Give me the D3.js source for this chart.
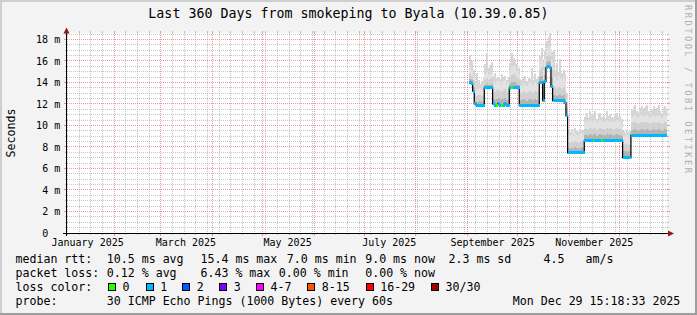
<!DOCTYPE html>
<html><head><meta charset="utf-8">
<script src="https://cdn.jsdelivr.net/npm/d3@7"></script>
<style>
html,body{margin:0;padding:0;background:#f3f3f3;}
svg{display:block;}
text{font-family:"DejaVu Sans Mono",monospace;fill:#000;}
</style></head><body>
<svg id="c" width="697" height="315"></svg>
<script>
// ---------------- data ----------------
const chartTitle = "Last 360 Days from smokeping to Byala (10.39.0.85)";
const yAxisTitle = "Seconds";
const watermark = "RRDTOOL / TOBI OETIKER";
const startTime = new Date(Date.UTC(2025, 0, 3, 15, 18, 33));
const endTime = new Date(Date.UTC(2025, 11, 29, 15, 18, 33));
const firstDataDay = new Date(Date.UTC(2025, 8, 2)); // one value per day from here

const yTickValues = [0, 2, 4, 6, 8, 10, 12, 14, 16, 18];
const yTickLabels = ["0", "2 m", "4 m", "6 m", "8 m", "10 m", "12 m", "14 m", "16 m", "18 m"];
const xTickDates = [new Date(Date.UTC(2025,0,1)), new Date(Date.UTC(2025,2,1)), new Date(Date.UTC(2025,4,1)),
                    new Date(Date.UTC(2025,6,1)), new Date(Date.UTC(2025,8,1)), new Date(Date.UTC(2025,10,1))];
const xTickLabels = ["January 2025", "March 2025", "May 2025", "July 2025", "September 2025", "November 2025"];

// median rtt (ms), one per day
const median = [
 14.0,13.9,13.2,
 12.0,11.9,11.9,11.9,11.9,11.9,
 13.5,13.5,13.5,13.5,13.5,
 12.0,11.9,11.9,12.0,11.9,11.9,11.9,12.0,11.9,11.9,
 13.5,13.5,13.5,13.5,13.5,13.5,
 11.9,11.9,11.9,11.9,11.9,11.9,11.9,11.9,11.9,11.9,11.9,11.9,
 14.0,14.0,12.3,14.1,15.4,15.5,15.4,13.6,
 12.3,12.3,12.3,12.3,12.3,12.3,12.3,12.1,
 10.9,
 7.45,7.45,7.45,7.45,7.45,7.45,7.45,7.45,7.45,7.45,
 8.6,8.6,8.6,8.6,8.6,8.6,8.6,8.6,8.6,8.6,8.6,8.6,8.6,8.6,8.6,8.6,8.6,8.6,8.6,8.6,8.6,8.6,8.6,
 7.0,7.0,7.0,7.0,7.0,
 9.1,9.1,9.1,9.1,9.1,9.1,9.1,9.1,9.1,9.1,9.1,9.1,9.1,9.1,9.1,9.1,9.1,9.1,9.1,9.1,9.1,9.1
];
// loss class index per day (0 = "0", 1 = "1", ...)
const lossClass = [
 1,1,1,1,1,1,1,1,1,1,
 1,1,1,1,1,1,0,1,1,0,
 1,1,1,1,1,0,1,1,1,1,
 1,1,1,1,1,1,1,1,1,1,
 1,1,1,1,1,1,1,1,1,1,
 1,1,1,1,1,1,1,1,1,1,
 1,1,1,1,1,1,1,1,1,1,
 1,1,1,1,0,1,1,1,1,0,
 1,1,1,1,1,1,1,1,1,1,
 1,1,1,1,1,1,1,1,1,1,
 1,1,1,1,1,1,1,1,1,1,
 1,1,1,1,1,1,1,1,1
];
// smoke: ping distribution per day (ms)
const smokeP60 = [
 14.3,14.2,13.6,
 12.3,12.2,12.2,12.3,12.2,12.3,
 13.8,13.9,13.8,13.8,13.9,
 12.5,12.4,12.5,12.6,12.4,12.5,12.5,12.6,12.4,12.5,
 13.9,14.0,14.0,14.0,13.9,13.8,
 12.4,12.4,12.5,12.4,12.3,12.4,12.5,12.4,12.4,12.5,12.4,12.4,
 14.5,14.6,13.2,14.7,15.9,16.0,15.9,14.4,
 12.8,12.8,12.7,12.8,12.8,12.7,12.8,12.6,
 11.6,
 7.9,7.8,7.9,7.8,8.0,7.9,7.8,7.9,8.0,7.9,
 9.1,9.1,9.0,9.2,9.1,9.1,9.2,9.0,9.1,9.2,9.1,9.1,9.0,9.2,9.1,9.2,9.1,9.0,9.1,9.2,9.1,9.1,9.0,
 7.6,7.5,7.6,7.5,7.6,
 9.6,9.6,9.7,9.6,9.5,9.6,9.7,9.6,9.6,9.7,9.6,9.5,9.6,9.7,9.6,9.6,9.7,9.6,9.5,9.6,9.7,9.6
];
const smokeP75 = [
 14.8,14.6,14.2,
 12.8,12.7,12.8,12.8,12.7,12.9,
 14.2,14.4,14.2,14.3,14.4,
 13.2,13.1,13.3,13.3,13.1,13.2,13.3,13.4,13.1,13.2,
 14.5,14.7,14.8,14.7,14.5,14.3,
 13.1,13.0,13.2,13.1,13.0,13.1,13.2,13.1,13.0,13.2,13.1,13.2,
 15.2,15.4,14.2,15.4,16.5,16.6,16.5,15.2,
 13.5,13.6,13.4,13.6,13.5,13.4,13.6,13.3,
 12.2,
 8.5,8.4,8.5,8.4,8.6,8.5,8.4,8.5,8.6,8.5,
 9.7,9.7,9.6,9.8,9.7,9.7,9.8,9.6,9.7,9.8,9.7,9.7,9.6,9.8,9.7,9.8,9.7,9.6,9.7,9.8,9.7,9.7,9.6,
 8.3,8.2,8.3,8.2,8.3,
 10.2,10.3,10.3,10.2,10.1,10.2,10.3,10.2,10.3,10.3,10.2,10.1,10.2,10.3,10.2,10.2,10.3,10.2,10.1,10.2,10.3,10.2
];
const smokeP90 = [
 15.4,15.2,14.6,
 13.4,13.3,13.4,13.5,13.3,13.6,
 14.8,15.0,14.7,14.8,15.0,
 14.0,13.9,14.1,14.1,13.9,14.0,14.1,14.2,13.9,14.0,
 15.1,15.4,15.5,15.4,15.1,14.8,
 13.8,13.7,13.9,13.8,13.7,13.9,14.0,13.9,13.8,14.0,13.8,14.0,
 15.9,16.2,15.2,16.2,17.2,17.4,17.2,16.0,
 14.3,14.5,14.2,14.6,14.4,14.3,14.5,14.1,
 12.6,
 9.1,9.0,9.2,9.0,9.3,9.1,9.0,9.2,9.3,9.1,
 10.3,10.4,10.2,10.5,10.3,10.4,10.5,10.2,10.4,10.5,10.3,10.4,10.2,10.5,10.3,10.4,10.3,10.2,10.4,10.5,10.3,10.4,10.1,
 9.0,8.9,9.1,8.9,9.0,
 10.8,10.9,11.0,10.8,10.7,10.9,11.0,10.8,10.9,11.0,10.8,10.7,10.9,11.0,10.8,10.9,11.0,10.8,10.7,10.9,11.0,10.8
];
const smokeMax = [
 16.6,16.0,15.2,
 14.0,14.9,14.2,13.9,14.1,14.5,
 15.7,16.7,15.3,15.6,15.9,
 14.6,14.9,14.4,14.5,14.3,14.8,14.4,14.6,14.2,14.5,
 15.8,16.7,16.3,16.0,15.7,15.3,
 14.3,14.2,14.5,14.6,14.1,14.4,14.3,15.3,14.2,14.8,14.3,14.6,
 16.6,17.2,16.0,16.9,17.9,18.2,18.6,16.8,
 17.0,15.2,15.8,15.0,16.2,14.9,15.2,14.8,
 13.0,
 9.6,9.4,9.7,9.3,9.8,9.5,9.4,9.7,9.6,9.5,
 10.8,11.2,10.7,11.3,10.9,11.0,11.3,10.6,11.1,11.2,10.8,11.0,10.7,11.3,10.9,11.1,10.8,10.7,11.0,11.2,10.8,10.9,10.6,
 9.5,9.3,9.6,9.4,9.5,
 11.4,11.7,11.9,11.3,11.2,11.6,11.8,11.4,11.7,11.9,11.3,11.2,11.5,11.8,11.4,11.6,11.9,11.3,11.2,11.6,11.8,11.5
];

const lossLabels = ["0", "1", "2", "3", "4-7", "8-15", "16-29", "30/30"];
const lossColors = ["#26ff00", "#00b8ff", "#0059ff", "#7e00ff", "#ff00ff", "#ff5500", "#ff0000", "#a00000"];

const legendRtt = ["median rtt:", "10.5 ms avg", "15.4 ms max", "7.0 ms min", "9.0 ms now", "2.3 ms sd", "4.5", "am/s"];
const legendLoss = ["packet loss:", "0.12 % avg", "6.43 % max", "0.00 % min", "0.00 % now"];
const legendColorTitle = "loss color:";
const legendProbe = ["probe:", "30 ICMP Echo Pings (1000 Bytes) every 60s", "Mon Dec 29 15:18:33 2025"];

// ---------------- drawing ----------------
const W = 697, H = 315;
const X0 = 67, X1 = 667, Y0 = 233, Y1 = 33;
const svg = d3.select("#c");

const x = d3.scaleUtc().domain([startTime, endTime]).range([X0, X1]);
const y = d3.scaleLinear().domain([0, 18.6]).range([Y0, Y1]);
const px = v => Math.floor(v) + 0.5;

// background + frame
svg.append("rect").attr("width", W).attr("height", H).attr("fill", "#f3f3f3");
svg.append("rect").attr("x", 0).attr("y", 0).attr("width", W).attr("height", 2).attr("fill", "#cfcfcf");
svg.append("rect").attr("x", 0).attr("y", 0).attr("width", 2).attr("height", H).attr("fill", "#cfcfcf");
svg.append("rect").attr("x", 0).attr("y", H - 2).attr("width", W).attr("height", 2).attr("fill", "#9e9e9e");
svg.append("rect").attr("x", W - 2).attr("y", 0).attr("width", 2).attr("height", H).attr("fill", "#9e9e9e");

// canvas
svg.append("rect").attr("x", X0).attr("y", Y1).attr("width", X1 - X0).attr("height", Y0 - Y1).attr("fill", "#fff");

const GRID = "rgba(140,140,140,0.5)";
const MGRID = "rgba(220,60,60,0.5)";
const grid = svg.append("g").attr("shape-rendering", "crispEdges");

// horizontal grid
const minorY = d3.range(1, 38).map(k => k * 0.5).filter(v => v % 2 !== 0);
const majorY = yTickValues.filter(v => v > 0);
function hLine(v, col, tick) {
  const yy = px(y(v));
  grid.append("line").attr("x1", X0).attr("x2", X1).attr("y1", yy).attr("y2", yy)
    .attr("stroke", col).attr("stroke-dasharray", "1,1");
  grid.append("line").attr("x1", X0 - tick).attr("x2", X0).attr("y1", yy).attr("y2", yy).attr("stroke", col);
  grid.append("line").attr("x1", X1).attr("x2", X1 + tick).attr("y1", yy).attr("y2", yy).attr("stroke", col);
}
minorY.forEach(v => hLine(v, GRID, 2));
majorY.forEach(v => hLine(v, MGRID, 3));

// vertical grid
const monthStarts = d3.utcMonth.range(startTime, endTime);
const weekLines = d3.utcSaturday.range(startTime, endTime).filter(d => d.getUTCDate() !== 1);
function vLine(d, col, tick) {
  const xx = px(x(d));
  grid.append("line").attr("x1", xx).attr("x2", xx).attr("y1", Y1).attr("y2", Y0)
    .attr("stroke", col).attr("stroke-dasharray", "1,1");
  grid.append("line").attr("x1", xx).attr("x2", xx).attr("y1", Y1 - 2).attr("y2", Y1).attr("stroke", col);
  grid.append("line").attr("x1", xx).attr("x2", xx).attr("y1", Y0).attr("y2", Y0 + tick).attr("stroke", col);
}
weekLines.forEach(d => vLine(d, GRID, 2));
monthStarts.forEach(d => vLine(d, MGRID, 3));

// data
svg.append("clipPath").attr("id", "plotclip").append("rect")
  .attr("x", X0).attr("y", Y1 - 2).attr("width", X1 - X0).attr("height", Y0 - Y1 + 2);
const plot = svg.append("g").attr("clip-path", "url(#plotclip)");

const days = median.map((m, i) => d3.utcDay.offset(firstDataDay, i));
const dayEnd = i => d3.utcDay.offset(firstDataDay, i + 1);

function band(arr, color) {
  plot.append("g").attr("shape-rendering", "crispEdges").selectAll("rect").data(arr).join("rect")
    .attr("x", (v, i) => x(days[i]))
    .attr("width", (v, i) => x(dayEnd(i)) - x(days[i]) + 0.3)
    .attr("y", v => y(v))
    .attr("height", (v, i) => Math.max(0, y(median[i]) - y(v)))
    .attr("fill", color);
}
band(smokeMax, "#d6d6d6");
band(smokeP90, "#e2e2e2");
band(smokeP75, "#d0d0d0");
band(smokeP60, "#b3b3b3");

// median black step line
const stepPts = days.map((d, i) => [x(d), y(median[i])]);
stepPts.push([x(dayEnd(median.length - 1)), y(median[median.length - 1])]);
plot.append("path").attr("d", d3.line().curve(d3.curveStepAfter)(stepPts))
  .attr("fill", "none").attr("stroke", "#000").attr("stroke-width", 1.2);

// coloured median (by loss)
plot.append("g").attr("shape-rendering", "crispEdges").selectAll("rect").data(median).join("rect")
  .attr("x", (v, i) => x(days[i]))
  .attr("width", (v, i) => x(dayEnd(i)) - x(days[i]) + 0.3)
  .attr("y", v => y(v) - 1.5)
  .attr("height", 3)
  .attr("fill", (v, i) => lossColors[lossClass[i]]);

// axes
const AX = "#000";
svg.append("line").attr("x1", 66.5).attr("x2", 66.5).attr("y1", Y0 + 3).attr("y2", 30)
  .attr("stroke", AX).attr("shape-rendering", "crispEdges");
svg.append("line").attr("x1", 63).attr("x2", 671).attr("y1", Y0 + 0.5).attr("y2", Y0 + 0.5)
  .attr("stroke", AX).attr("shape-rendering", "crispEdges");
const ARROW = "#8e1b1b";
svg.append("path").attr("d", "M63.5,33.5 L66.5,27.5 L69.5,33.5 Z").attr("fill", ARROW);
svg.append("path").attr("d", "M668,230.5 L674,233.5 L668,236.5 Z").attr("fill", ARROW);

// y tick labels
svg.append("g").selectAll("text").data(yTickValues).join("text")
  .attr("x", (v, i) => v === 0 ? 48.2 : 60.2)
  .attr("y", v => y(v) + 3.6)
  .attr("text-anchor", "end")
  .attr("font-size", "10px")
  .text((v, i) => yTickLabels[i]);

// x tick labels (centered mid-month)
svg.append("g").selectAll("text").data(xTickDates).join("text")
  .attr("x", d => x(d3.utcDay.offset(d, 15)))
  .attr("y", 245.5)
  .attr("text-anchor", "middle")
  .attr("font-size", "10px")
  .text((d, i) => xTickLabels[i]);

// title
svg.append("text").attr("x", 348.5).attr("y", 18).attr("text-anchor", "middle")
  .attr("font-size", "13.3px").text(chartTitle);

// y axis title
svg.append("text").attr("transform", "translate(15,133) rotate(-90)").attr("text-anchor", "middle")
  .attr("font-size", "11.6px").text(yAxisTitle);

// watermark
svg.append("text").attr("transform", "translate(684.5,5) rotate(90)")
  .attr("font-size", "8.8px").attr("textLength", 168).attr("lengthAdjust", "spacing")
  .style("fill", "#b0b0b0").text(watermark);

// legend
const LF = "11.6px";
const leg = svg.append("g").attr("font-size", LF);
function row(items, xs, yy) {
  items.forEach((t, i) => leg.append("text").attr("x", xs[i]).attr("y", yy).attr("xml:space", "preserve").text(t));
}
row(legendRtt, [15.5, 106.8, 200.5, 286.8, 365.2, 448.5, 543.5, 585.5], 262.5);
row(legendLoss, [15.5, 106.8, 200.5, 278.8, 365.2], 276.5);
row([legendColorTitle], [15.5], 290.5);
const boxX = [108, 145.7, 182.3, 219.3, 256, 307.3, 365.7, 431];
lossLabels.forEach((l, i) => {
  leg.append("rect").attr("x", Math.round(boxX[i]) + 0.5).attr("y", 283.5).attr("width", 7).attr("height", 7)
    .attr("fill", lossColors[i]).attr("stroke", "#000").attr("stroke-width", 1);
  leg.append("text").attr("x", boxX[i] + 14.5).attr("y", 290.5).text(l);
});
row(legendProbe, [15.5, 106.8, 512.8], 304.5);
</script>
</body></html>
